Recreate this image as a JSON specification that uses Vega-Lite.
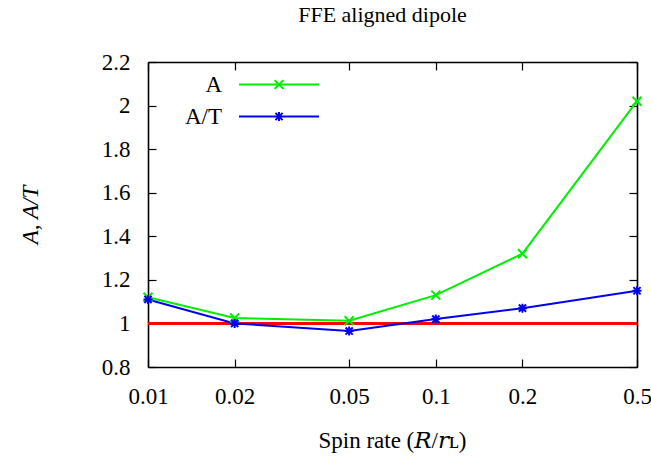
{
  "$schema": "https://vega.github.io/schema/vega-lite/v6.json",
  "width": 489,
  "height": 305,
  "autosize": {"type": "none"},
  "padding": {"left": 148, "top": 62, "right": 14, "bottom": 93},
  "background": "white",
  "title": {"text": "FFE aligned dipole", "anchor": "middle", "offset": 24, "dx": -10, "font": "Liberation Serif, DejaVu Serif, serif", "fontSize": 22, "fontWeight": "normal", "color": "black"},
  "config": {
    "view": {"stroke": null},
    "font": "Liberation Serif, DejaVu Serif, serif",
    "axis": {
      "labelFont": "Liberation Serif, DejaVu Serif, serif", "labelFontSize": 23, "labelColor": "black",
      "titleFont": "Liberation Serif, DejaVu Serif, serif", "titleFontSize": 23, "titleFontWeight": "normal", "titleColor": "black",
      "domainColor": "black", "domainWidth": 1.6, "tickColor": "black", "tickWidth": 1.2,
      "tickSize": -8, "grid": false, "labelFlush": false
    },
    "legend": {"labelFont": "Liberation Serif, DejaVu Serif, serif", "labelFontSize": 23, "labelColor": "black"}
  },
  "data": {"values": [
    {"x": 0.01, "series": "A", "value": 1.12},
    {"x": 0.02, "series": "A", "value": 1.025},
    {"x": 0.05, "series": "A", "value": 1.012},
    {"x": 0.1, "series": "A", "value": 1.13},
    {"x": 0.2, "series": "A", "value": 1.32},
    {"x": 0.5, "series": "A", "value": 2.02},
    {"x": 0.01, "series": "A/T", "value": 1.11},
    {"x": 0.02, "series": "A/T", "value": 1.0},
    {"x": 0.05, "series": "A/T", "value": 0.965},
    {"x": 0.1, "series": "A/T", "value": 1.02},
    {"x": 0.2, "series": "A/T", "value": 1.07},
    {"x": 0.5, "series": "A/T", "value": 1.15}
  ]},
  "layer": [
    {
      "mark": {"type": "rule", "color": "#ff0000", "strokeWidth": 1.5},
      "encoding": {"y": {"datum": 1, "type": "quantitative", "scale": {"domain": [0.8, 2.2], "nice": false, "zero": false}, "axis": null}}
    },
    {
      "mark": {"type": "line", "strokeWidth": 2},
      "encoding": {
        "x": {"field": "x", "type": "quantitative",
              "scale": {"type": "log", "domain": [0.01, 0.5], "nice": false},
              "axis": {"orient": "bottom", "values": [0.01, 0.02, 0.05, 0.1, 0.2, 0.5], "format": "~g", "labelPadding": 26, "labelBaseline": "top", "labelFlush": false,
                       "title": "Spin rate (𝑅/𝑟ʟ)", "titleX": 244, "titleY": 73, "titleBaseline": "middle", "titleAnchor": null}},
        "y": {"field": "value", "type": "quantitative",
              "scale": {"domain": [0.8, 2.2], "nice": false, "zero": false},
              "axis": {"orient": "left", "values": [0.8, 1, 1.2, 1.4, 1.6, 1.8, 2, 2.2], "format": "~g", "labelPadding": 26,
                       "title": "A, A/T", "titleFontStyle": "italic", "titleX": -118, "titleY": 152.5, "titleAngle": -90, "titleBaseline": "middle", "titleAlign": "center"}},
        "color": {"field": "series", "type": "nominal", "scale": {"domain": ["A", "A/T"], "range": ["#00ee00", "#0000ee"]}}
      }
    },
    {
      "transform": [{"filter": "datum.series === 'A'"}],
      "mark": {"type": "point", "filled": false, "strokeWidth": 2, "size": 81, "opacity": 1, "shape": "M-1,-1L1,1M-1,1L1,-1"},
      "encoding": {
        "x": {"field": "x", "type": "quantitative",
              "axis": {"orient": "top", "values": [0.01, 0.02, 0.05, 0.1, 0.2, 0.5], "labels": false, "title": null}},
        "y": {"field": "value", "type": "quantitative",
              "axis": {"orient": "right", "values": [0.8, 1, 1.2, 1.4, 1.6, 1.8, 2, 2.2], "labels": false, "title": null}},
        "color": {"field": "series", "type": "nominal"}
      }
    },
    {
      "transform": [{"filter": "datum.series === 'A/T'"}],
      "mark": {"type": "point", "filled": false, "strokeWidth": 2, "size": 81, "opacity": 1, "shape": "M-1,0H1M0,-1V1M-0.8,-0.8L0.8,0.8M-0.8,0.8L0.8,-0.8"},
      "encoding": {
        "x": {"field": "x", "type": "quantitative", "axis": null},
        "y": {"field": "value", "type": "quantitative", "axis": null},
        "color": {"field": "series", "type": "nominal"}
      }
    },
    {
      "transform": [{"filter": "datum.x < 0"}],
      "mark": {"type": "point", "filled": false, "strokeWidth": 2, "opacity": 1},
      "encoding": {
        "x": {"field": "x", "type": "quantitative", "axis": null},
        "y": {"field": "value", "type": "quantitative", "axis": null},
        "color": {"field": "series", "type": "nominal",
                  "legend": {"orient": "none", "legendX": 119.5, "legendY": 11, "title": null, "padding": 0,
                             "symbolSize": 64, "symbolStrokeWidth": 2, "labelAlign": "right", "labelOffset": -68.5, "rowPadding": 8}},
        "shape": {"field": "series", "type": "nominal",
                  "scale": {"domain": ["A", "A/T"], "range": ["M-10,0H10M-1.1,-1.1L1.1,1.1M-1.1,1.1L1.1,-1.1", "M-10,0H10M0,-1.1V1.1M-0.9,-0.9L0.9,0.9M-0.9,0.9L0.9,-0.9"]},
                  "legend": {"orient": "none", "legendX": 119.5, "legendY": 11, "title": null, "padding": 0,
                             "symbolSize": 64, "symbolStrokeWidth": 2, "labelAlign": "right", "labelOffset": -68.5, "rowPadding": 8}}
      }
    }
  ],
  "resolve": {"axis": {"x": "independent", "y": "independent"}}
}
